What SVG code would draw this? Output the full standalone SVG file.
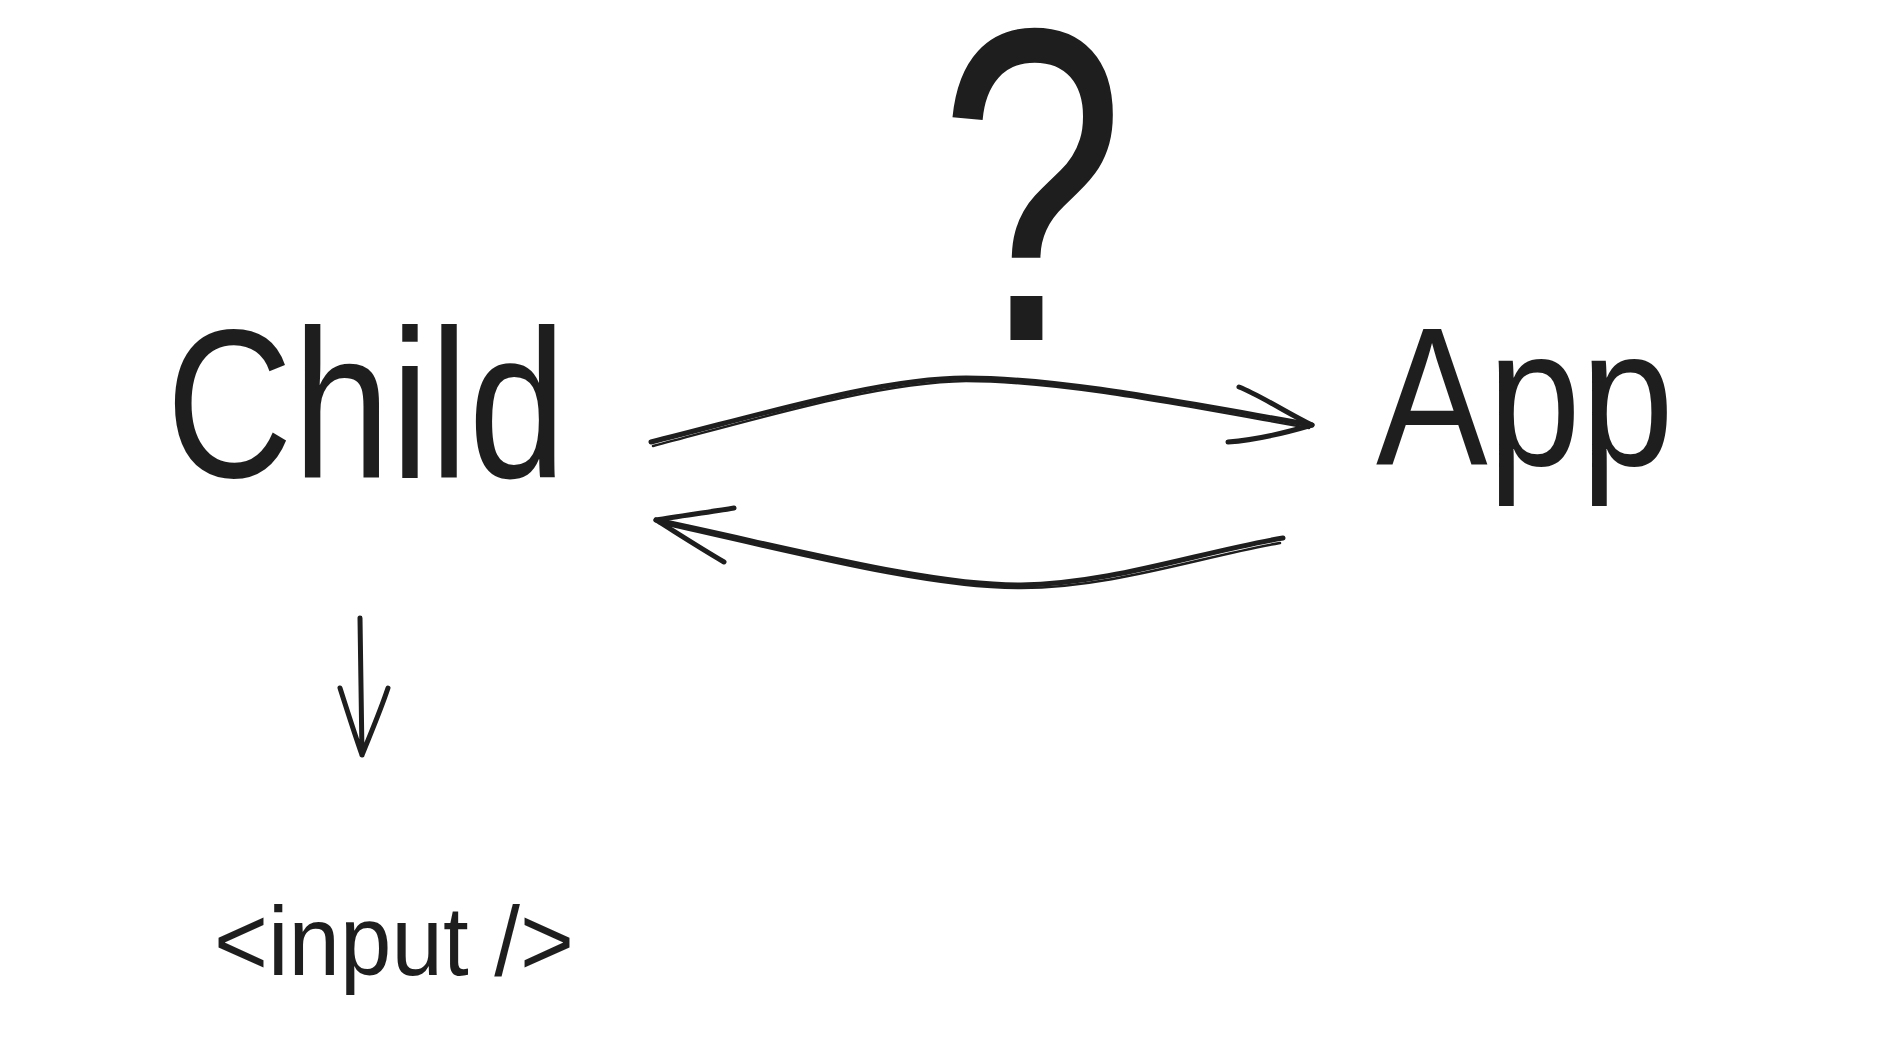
<svg xmlns="http://www.w3.org/2000/svg" width="1884" height="1062" viewBox="0 0 1884 1062">
<style>
.t{font-family:"Liberation Sans",Arial,sans-serif;fill:#1e1e1e;}
.c{fill:none;stroke:#1e1e1e;stroke-width:5;stroke-linecap:round;stroke-linejoin:round;}
.c2{fill:none;stroke:#1e1e1e;stroke-width:2.5;stroke-linecap:round;}
</style>
<rect width="1884" height="1062" fill="#ffffff"/>
<g id="question">
<text class="t" transform="translate(1032,340) scale(0.78,1.04)" x="0" y="0" text-anchor="middle" font-size="430">?</text>
</g>
<g id="child">
<text class="t" x="166" y="477" font-size="212" textLength="400" lengthAdjust="spacingAndGlyphs">Child</text>
</g>
<g id="app">
<text class="t" x="1376" y="465" font-size="196" textLength="298" lengthAdjust="spacingAndGlyphs">App</text>
</g>
<g id="input">
<text class="t" x="214" y="975" font-size="98" textLength="360" lengthAdjust="spacingAndGlyphs">&lt;input /&gt;</text>
</g>
<g id="connectors">
<path class="c" d="M651,442 C760,415 880,378 966,378 C1060,378 1180,402 1312,425"/>
<path class="c2" d="M653,446 C760,418 880,382 966,381 C1060,381 1180,405 1309,428"/>
<path class="c" d="M1239,387 C1260,395 1290,415 1312,425 M1228,442 C1255,440 1285,433 1312,425"/>
<path class="c" d="M1283,538 C1200,552 1110,584 1021,585 C930,586 790,548 656,520"/>
<path class="c2" d="M1280,543 C1200,557 1110,588 1021,588 C930,589 790,552 659,523"/>
<path class="c" d="M734,508 C710,512 680,516 656,520 M724,562 C700,548 680,535 656,520"/>
<path class="c" d="M360,618 L362,755 M340,688 C347,710 355,735 362,755 M388,688 C380,712 370,735 362,755"/>
</g>
</svg>
